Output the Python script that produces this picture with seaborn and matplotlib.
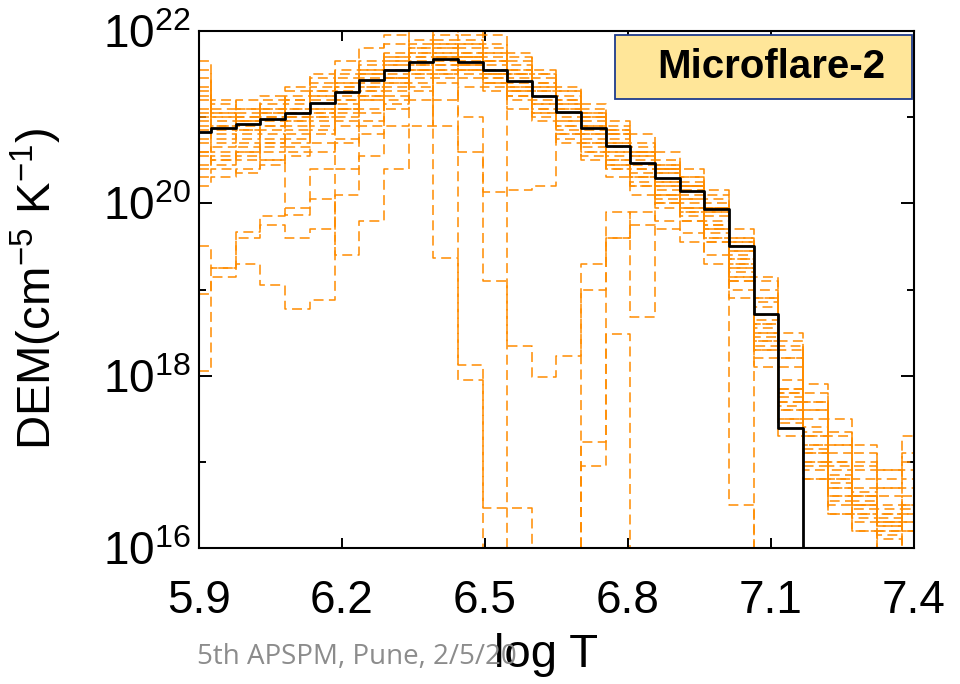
import numpy as np
import pandas as pd
import matplotlib
matplotlib.use("Agg")
import matplotlib.pyplot as plt
import seaborn as sns
from matplotlib.patches import Rectangle

# temperature grid (log T), 30 points from 5.9 to 7.4
log_t = [5.900, 5.952, 6.003, 6.055, 6.107, 6.159, 6.210, 6.262, 6.314, 6.366,
         6.417, 6.469, 6.521, 6.572, 6.624, 6.676, 6.728, 6.779, 6.831, 6.883,
         6.934, 6.986, 7.038, 7.090, 7.141, 7.193, 7.245, 7.297, 7.348, 7.400]

# best-fit DEM, log10 (values below 16 are off the plot)
dem_best = [20.83, 20.87, 20.92, 20.98, 21.05, 21.16, 21.29, 21.43, 21.55, 21.64,
            21.67, 21.64, 21.55, 21.42, 21.24, 21.06, 20.87, 20.66, 20.47, 20.29,
            20.14, 19.93, 19.50, 18.72, 17.39, 14.0, 14.0, 14.0, 14.0, 14.0]

# Monte Carlo realisations, log10
mc = {
    'c1': [21.45, 20.95, 21.10, 21.05, 21.20, 21.40, 21.55, 21.60, 21.70, 21.85, 21.90, 21.80, 21.70, 21.55, 21.35, 21.15, 20.95, 20.75, 20.55, 20.40, 20.20, 19.95, 19.40, 18.80, 18.10, 17.50, 17.00, 16.80, 16.60, 16.40],
    'c2': [20.70, 20.60, 20.55, 20.70, 20.80, 20.95, 21.10, 21.30, 21.45, 21.60, 21.75, 21.85, 21.75, 21.60, 21.40, 21.20, 21.00, 20.80, 20.60, 20.45, 20.30, 20.05, 19.60, 19.00, 18.30, 17.70, 17.20, 16.90, 16.70, 16.90],
    'c3': [21.10, 21.00, 20.85, 20.90, 21.00, 21.05, 21.20, 21.50, 21.70, 21.80, 21.65, 21.55, 21.45, 21.30, 21.10, 21.00, 20.80, 20.55, 20.35, 20.15, 20.00, 19.75, 19.30, 18.50, 17.80, 17.10, 16.70, 16.50, 16.30, 16.20],
    'c4': [20.40, 20.50, 20.65, 20.60, 20.75, 20.85, 21.00, 21.20, 21.35, 21.50, 21.60, 21.70, 21.85, 21.70, 21.50, 21.30, 21.10, 20.90, 20.70, 20.50, 20.30, 20.10, 19.70, 19.15, 18.50, 17.90, 17.50, 17.20, 16.90, 17.30],
    'c5': [21.65, 21.20, 21.00, 21.15, 21.30, 21.45, 21.40, 21.35, 21.50, 21.70, 21.95, 21.90, 21.60, 21.45, 21.30, 20.95, 20.70, 20.50, 20.30, 20.20, 20.05, 19.80, 19.45, 18.60, 17.60, 16.90, 16.50, 16.30, 16.10, 14.00],
    'c6': [20.95, 20.80, 20.75, 20.80, 20.65, 20.70, 20.90, 21.10, 21.30, 21.45, 21.55, 21.50, 21.40, 21.25, 21.15, 20.90, 20.75, 20.60, 20.45, 20.25, 20.10, 19.85, 19.35, 18.40, 17.70, 17.30, 16.90, 16.60, 16.45, 16.60],
    'c7': [20.20, 20.30, 20.40, 20.50, 20.55, 20.60, 20.75, 20.95, 21.15, 21.35, 21.50, 21.65, 21.65, 21.55, 21.45, 21.35, 21.15, 20.95, 20.80, 20.60, 20.40, 20.15, 19.55, 18.90, 18.20, 17.60, 17.10, 16.70, 16.50, 16.70],
    'c8': [21.30, 21.10, 21.20, 21.25, 21.10, 21.25, 21.45, 21.65, 21.85, 22.00, 21.85, 21.70, 21.50, 21.35, 21.20, 21.05, 20.90, 20.70, 20.50, 20.35, 20.15, 19.90, 19.50, 18.70, 17.95, 17.40, 17.00, 16.60, 16.20, 16.30],
    'c9': [20.55, 20.70, 20.90, 21.00, 21.10, 21.20, 21.35, 21.40, 21.45, 21.55, 21.70, 21.75, 21.65, 21.50, 21.25, 21.10, 20.85, 20.65, 20.40, 20.20, 19.95, 19.70, 19.25, 18.30, 17.50, 16.80, 16.40, 16.20, 14.00, 14.00],
    'c10': [21.55, 21.00, 20.95, 21.00, 21.20, 21.30, 21.25, 21.45, 21.60, 21.75, 21.80, 21.60, 21.55, 21.40, 21.30, 21.15, 21.00, 20.85, 20.65, 20.45, 20.25, 19.95, 19.55, 18.85, 18.35, 17.80, 17.30, 16.95, 16.80, 17.00],
    'c11': [20.85, 20.65, 20.70, 20.85, 20.95, 21.05, 21.15, 21.35, 21.55, 21.65, 21.70, 21.60, 21.50, 21.35, 21.05, 20.85, 20.65, 20.45, 20.25, 20.05, 19.90, 19.65, 19.15, 18.20, 17.45, 17.00, 16.60, 16.40, 16.25, 16.50],
    'c12': [21.20, 20.90, 21.05, 21.10, 20.95, 21.10, 21.30, 21.50, 21.65, 21.90, 21.80, 21.85, 21.75, 21.65, 21.50, 21.25, 21.05, 20.85, 20.60, 20.40, 20.20, 20.00, 19.60, 19.10, 18.40, 17.60, 17.20, 17.00, 16.70, 16.80],
    'c13': [20.30, 20.40, 20.35, 20.45, 20.60, 20.80, 20.95, 21.05, 21.25, 21.40, 21.55, 21.45, 21.35, 21.20, 21.00, 20.75, 20.55, 20.40, 20.20, 20.00, 19.80, 19.55, 19.10, 18.35, 17.65, 17.20, 16.80, 16.50, 16.30, 16.20],
    'c14': [21.05, 21.15, 21.10, 20.95, 21.05, 21.35, 21.50, 21.55, 21.75, 21.80, 22.00, 21.95, 21.80, 21.50, 21.35, 21.10, 20.90, 20.70, 20.55, 20.35, 20.20, 19.90, 19.45, 18.65, 17.85, 17.35, 16.95, 16.65, 16.40, 16.40],
    'c15': [21.00, 20.85, 21.00, 21.20, 21.35, 21.50, 21.65, 21.80, 21.95, 22.05, 22.10, 22.00, 21.95, 21.75, 21.55, 21.30, 21.05, 20.80, 20.60, 20.40, 20.20, 19.95, 19.50, 18.90, 18.20, 17.70, 17.35, 17.10, 16.90, 17.10],
    'o1': [18.95, 19.15, 19.30, 19.05, 18.77, 18.88, 20.40, 20.80, 21.20, 21.55, 21.70, 21.60, 21.45, 21.30, 21.10, 20.90, 20.70, 20.50, 20.30, 20.10, 19.95, 19.70, 19.25, 18.60, 17.80, 17.20, 16.80, 16.60, 16.40, 16.30],
    'o2': [18.06, 19.25, 19.67, 19.75, 19.60, 19.70, 20.10, 20.55, 20.90, 21.20, 21.45, 21.55, 21.40, 21.25, 21.05, 20.80, 20.60, 20.40, 20.20, 20.00, 19.85, 19.60, 19.15, 18.45, 17.70, 17.10, 16.70, 16.45, 16.25, 16.20],
    'o3': [20.90, 20.75, 20.80, 20.90, 21.00, 21.10, 21.20, 21.30, 21.45, 21.50, 19.36, 18.12, 16.46, 16.46, 14.00, 14.00, 16.95, 19.60, 19.90, 19.80, 19.65, 19.40, 19.00, 18.40, 17.60, 17.00, 16.60, 16.40, 16.20, 14.00],
    'o4': [20.60, 20.50, 20.60, 20.70, 20.85, 21.00, 21.10, 21.25, 21.40, 21.55, 20.90, 17.95, 14.00, 14.00, 14.00, 14.00, 17.23, 18.48, 14.00, 14.00, 14.00, 14.00, 14.00, 14.00, 14.00, 14.00, 14.00, 14.00, 14.00, 14.00],
    'o5': [21.25, 21.05, 20.95, 21.05, 21.15, 21.25, 21.40, 21.50, 21.60, 21.70, 21.75, 21.70, 21.50, 14.00, 14.00, 14.00, 19.00, 19.90, 18.68, 20.10, 19.90, 19.60, 19.20, 18.50, 17.75, 17.15, 16.75, 16.50, 16.30, 16.45],
    'o6': [20.45, 20.55, 20.50, 20.65, 20.70, 20.90, 21.05, 21.20, 21.40, 21.55, 21.50, 20.60, 19.10, 18.35, 17.98, 18.23, 19.30, 19.60, 19.75, 19.70, 19.55, 19.30, 18.90, 18.10, 17.30, 16.80, 16.40, 16.20, 14.00, 14.00],
    'o7': [19.50, 19.25, 19.60, 19.85, 19.95, 20.05, 19.40, 19.80, 20.40, 20.90, 21.20, 21.35, 21.30, 21.10, 20.95, 20.70, 20.50, 20.30, 20.10, 19.95, 19.80, 19.55, 19.10, 18.30, 17.50, 16.95, 16.55, 16.35, 16.15, 14.00],
    'o9': [21.35, 21.05, 20.95, 21.10, 21.25, 21.30, 21.35, 21.55, 21.65, 21.75, 21.85, 21.75, 21.65, 21.50, 21.40, 21.20, 21.00, 20.80, 20.60, 20.40, 20.20, 19.95, 19.30, 14.00, 14.00, 14.00, 14.00, 14.00, 14.00, 14.00],
    'o10': [20.75, 20.90, 20.85, 20.75, 20.90, 21.00, 21.10, 21.25, 21.45, 21.60, 21.60, 21.55, 21.40, 21.30, 21.15, 20.95, 20.80, 20.60, 20.40, 20.25, 20.05, 19.70, 16.50, 14.00, 14.00, 14.00, 14.00, 14.00, 14.00, 14.00],
    'o11': [20.60, 20.45, 20.60, 20.50, 19.86, 20.40, 20.70, 20.90, 21.10, 21.30, 21.40, 21.00, 20.13, 20.15, 20.20, 20.80, 20.60, 20.45, 20.30, 20.10, 19.95, 19.75, 19.35, 18.55, 17.85, 17.30, 16.85, 16.55, 16.35, 16.50],
}

x_ticks = [5.9, 6.2, 6.5, 6.8, 7.1, 7.4]
y_major = [1e16, 1e18, 1e20, 1e22]
y_major_labels = [r'$10^{16}$', r'$10^{18}$', r'$10^{20}$', r'$10^{22}$']
y_minor = [1e17, 1e19, 1e21]

sns.set_theme(style='ticks')
plt.rcParams['font.family'] = ['Liberation Sans', 'DejaVu Sans']
plt.rcParams['mathtext.default'] = 'regular'
plt.rcParams['text.color'] = 'black'
plt.rcParams['axes.labelcolor'] = 'black'
plt.rcParams['xtick.color'] = 'black'
plt.rcParams['ytick.color'] = 'black'

fig = plt.figure(figsize=(9.6, 6.84), dpi=100)
ax = fig.add_axes([0.2073, 0.1988, 0.7447, 0.7559])

orange = '#ff8c00'
for name, vals in mc.items():
    sns.lineplot(x=log_t, y=10.0 ** np.array(vals), ax=ax, color=orange,
                 lw=1.1, drawstyle='steps-mid', zorder=2,
                 linestyle=(0, (6.5, 3.5)))

sns.lineplot(x=log_t, y=10.0 ** np.array(dem_best), ax=ax, color='black',
             lw=2.0, drawstyle='steps-mid', zorder=5)

ax.set_yscale('log')
ax.set_xlim(5.9, 7.4)
ax.set_ylim(1e16, 1e22)
ax.set_xticks(x_ticks)
ax.set_xticklabels([f'{t:.1f}' for t in x_ticks])
ax.set_yticks(y_major)
ax.set_yticklabels(y_major_labels)
ax.set_yticks(y_minor, minor=True)
ax.yaxis.set_minor_formatter(plt.NullFormatter())
ax.xaxis.set_minor_locator(plt.NullLocator())

ax.tick_params(axis='both', which='both', direction='in', top=True, right=True,
               color='black', labelcolor='black', width=1.4)
ax.tick_params(axis='x', which='major', length=7, labelsize=33, pad=22)
ax.tick_params(axis='y', which='major', length=9.5, labelsize=33, pad=6)
ax.tick_params(axis='y', which='minor', length=5)
for sp in ax.spines.values():
    sp.set_color('black')
    sp.set_linewidth(1.5)

ax.set_xlabel('log T', fontsize=34, labelpad=8, color='black')
ax.set_ylabel(r'DEM(cm$^{-5}$ K$^{-1}$)', fontsize=34, labelpad=28, color='black')
ax.xaxis.set_label_coords(0.485, -0.165)

# label box
ax.add_patch(Rectangle((0.582, 0.8685), 0.415, 0.1235, transform=ax.transAxes,
                       facecolor='#ffe699', edgecolor='#1f3c8c', lw=1.3, zorder=6))
ax.text(0.80, 0.930, 'Microflare-2', transform=ax.transAxes, fontsize=29,
        fontweight='bold', ha='center', va='center', color='black', zorder=7)

fig.text(0.205, 0.039, '5th APSPM, Pune, 2/5/20', fontsize=20, color='#8c8c8c',
         family=['Open Sans', 'DejaVu Sans'], ha='left', va='center', zorder=0)

fig.savefig('out.png', dpi=100)
